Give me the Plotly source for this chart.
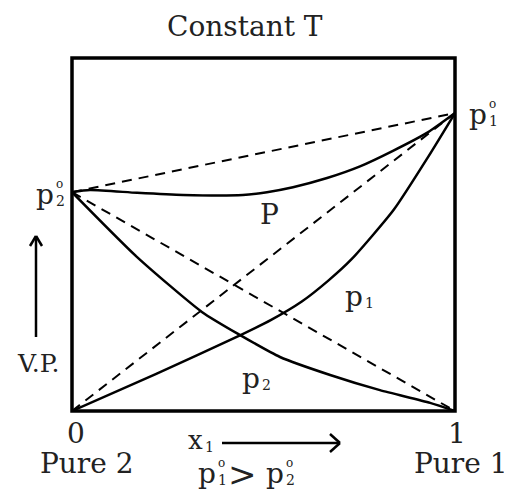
import plotly.graph_objects as go

# Data (mole fraction x1, vapour pressure in relative units)
p1_pure = 0.844
p2_pure = 0.62

x_P = [0.0, 0.047, 0.17, 0.29, 0.446, 0.509, 0.577, 0.666, 0.752, 0.838, 0.93, 1.0]
y_P = [0.62, 0.626, 0.618, 0.612, 0.612, 0.62, 0.634, 0.66, 0.693, 0.737, 0.79, 0.844]

x_p1 = [0.0, 0.22, 0.44, 0.52, 0.60, 0.67, 0.73, 0.84, 0.93, 1.0]
y_p1 = [0.0, 0.105, 0.215, 0.258, 0.31, 0.37, 0.43, 0.57, 0.72, 0.844]

x_p2 = [0.0, 0.17, 0.34, 0.439, 0.543, 0.674, 0.804, 0.935, 1.0]
y_p2 = [0.62, 0.436, 0.28, 0.215, 0.153, 0.102, 0.059, 0.023, 0.0]

ideal_x = [0.0, 1.0]
ideal_P = [p2_pure, p1_pure]
ideal_p1 = [0.0, p1_pure]
ideal_p2 = [p2_pure, 0.0]

FONT = "DejaVu Serif"
OFF = 8  # page body margin
L, R, T, B = 72, 455, 58, 411
W, H = R - L, B - T


def px(x):
    return (x - L) / W


def py(y):
    return (B - y) / H


fig = go.Figure()
for yy in (ideal_P, ideal_p1, ideal_p2):
    fig.add_trace(go.Scatter(x=ideal_x, y=yy, mode="lines",
                             line=dict(color="black", width=2, dash="10px,7px")))
for xx, yy in ((x_P, y_P), (x_p1, y_p1), (x_p2, y_p2)):
    fig.add_trace(go.Scatter(x=xx, y=yy, mode="lines",
                             line=dict(color="black", width=2.5, shape="spline", smoothing=0.6)))

LW = 2.5
shapes = [
    dict(type="rect", xref="paper", yref="paper", x0=0, y0=0, x1=1, y1=1,
         line=dict(color="black", width=3.5)),
    # V.P. arrow
    dict(type="line", xref="paper", yref="paper", x0=px(36), y0=py(337), x1=px(36), y1=py(236),
         line=dict(color="black", width=LW)),
    dict(type="line", xref="paper", yref="paper", x0=px(30), y0=py(246), x1=px(36), y1=py(236),
         line=dict(color="black", width=LW)),
    dict(type="line", xref="paper", yref="paper", x0=px(42), y0=py(246), x1=px(36), y1=py(236),
         line=dict(color="black", width=LW)),
    # x1 arrow
    dict(type="line", xref="paper", yref="paper", x0=px(222), y0=py(443), x1=px(340), y1=py(443),
         line=dict(color="black", width=LW)),
    dict(type="line", xref="paper", yref="paper", x0=px(330), y0=py(434), x1=px(340), y1=py(443),
         line=dict(color="black", width=LW)),
    dict(type="line", xref="paper", yref="paper", x0=px(330), y0=py(452), x1=px(340), y1=py(443),
         line=dict(color="black", width=LW)),
]

ann = []


def txt(x, y, s, size, xa="center"):
    ann.append(dict(x=px(x), y=py(y), xref="paper", yref="paper", text=s, showarrow=False,
                    xanchor=xa, yanchor="middle", font=dict(family=FONT, size=size, color="#222")))


def plab(x, y, sub, deg=True, size=28):
    # x = left of the 'p' glyph, y = middle of its x-height
    txt(x - 1, y + 1, "p", size, "left")
    if deg:
        txt(x + 19, y - 9, "o", 12, "left")
    txt(x + 19, y + 8, sub, 14, "left")


txt(245, 27, "Constant T", 28)
plab(35, 193, "2")
plab(468, 113, "1")
txt(269, 214, "P", 28)
plab(344, 295, "1", deg=False)
plab(241, 377, "2", deg=False)
txt(38, 363, "V.P.", 25)
txt(76, 433, "0", 28)
txt(457, 433, "1", 28)
txt(87, 463, "Pure 2", 28)
txt(461, 463, "Pure 1", 28)
txt(195, 440, "x", 26)
txt(203, 447, "1", 14, "left")
plab(197, 472, "1")
txt(242, 474, "&gt;", 34)
plab(265, 472, "2")

fig.update_layout(
    width=512, height=500, showlegend=False,
    margin=dict(l=L - OFF, r=512 - (R - OFF), t=T - OFF, b=500 - (B - OFF), pad=0),
    paper_bgcolor="white", plot_bgcolor="white",
    xaxis=dict(range=[0, 1], visible=False, fixedrange=True),
    yaxis=dict(range=[0, 1], visible=False, fixedrange=True),
    shapes=shapes, annotations=ann,
)
fig.write_html("out.html")
